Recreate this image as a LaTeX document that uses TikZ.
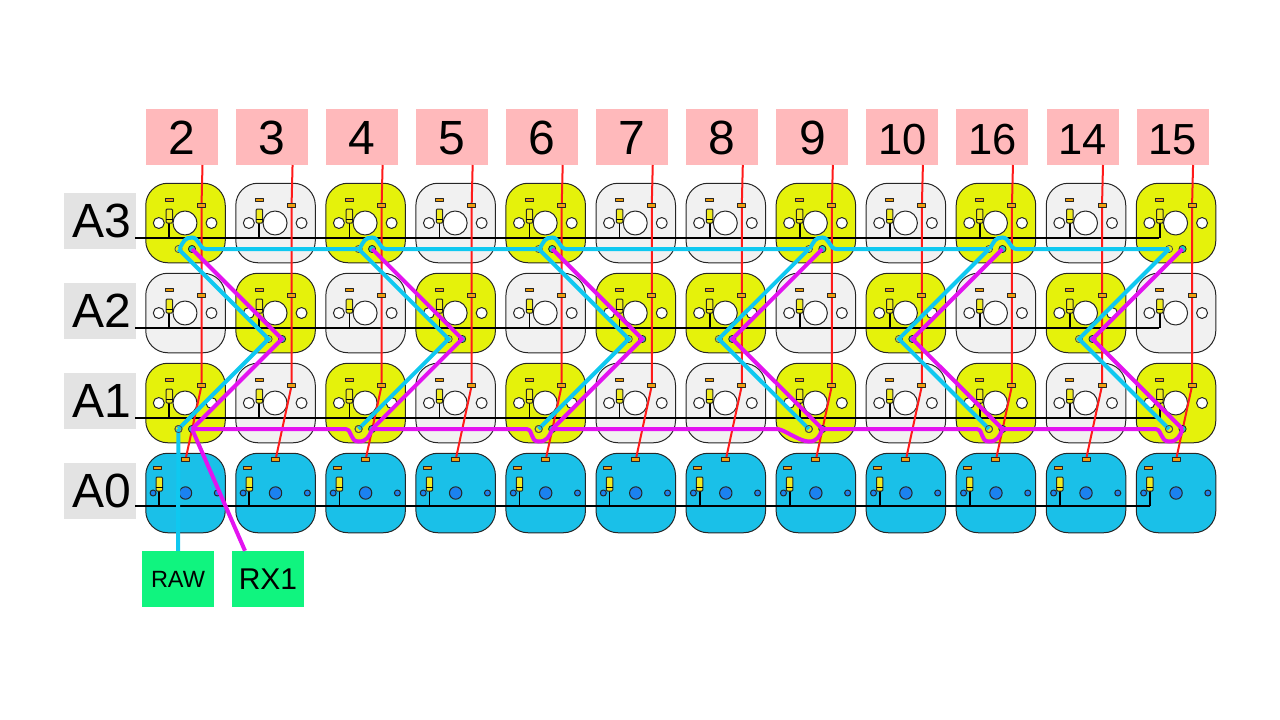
\documentclass[tikz,border=0pt]{standalone}
\usepackage{fontspec}
\setmainfont{Liberation Sans}
\usetikzlibrary{calc}
\definecolor{keyYellow}{RGB}{229,242,11}
\definecolor{keyWhite}{RGB}{241,241,241}
\definecolor{keyBlue}{RGB}{26,192,232}
\definecolor{holeBlue}{RGB}{27,130,240}
\definecolor{wireCyan}{RGB}{15,200,240}
\definecolor{wireMagenta}{RGB}{227,19,240}
\definecolor{wireRed}{RGB}{255,26,26}
\definecolor{padOrange}{RGB}{240,160,16}
\definecolor{padTeal}{RGB}{16,208,192}
\definecolor{bodyYellow}{RGB}{240,235,30}
\definecolor{pinPink}{RGB}{255,185,187}
\definecolor{rowGray}{RGB}{227,227,227}
\definecolor{busGreen}{RGB}{16,244,127}
\tikzset{
	keybox/.style={draw=black!85, line width=1pt, rounded corners=22pt, minimum width=79.5pt, minimum height=79.5pt, inner sep=0pt},
	pinbox/.style={fill=pinPink, minimum width=72pt, minimum height=56pt, inner sep=0pt, font=\fontsize{48}{48}\selectfont},
	pinwide/.style={pinbox, font=\fontsize{43.5}{44}\selectfont},
	rowbox/.style={fill=rowGray, minimum width=72pt, minimum height=56pt, inner sep=0pt, text width=72pt, align=center, font=\fontsize{48}{48}\selectfont},
	busbox/.style={fill=busGreen, minimum width=72pt, minimum height=56pt, inner sep=0pt},
	hole/.style={draw=black!85, line width=1pt},
	rowline/.style={black, line width=2pt},
	stem/.style={black, line width=1.8pt},
	redwire/.style={wireRed, line width=2pt},
	cyanwire/.style={wireCyan, line width=4pt, line join=miter},
	magentawire/.style={wireMagenta, line width=4pt, line join=miter},
	sidepad/.style={draw=black!85, fill=padOrange, line width=1pt},
	pics/resistor/.style={code={
			\draw[stem] (0,0) -- (0,29);
			\draw[sidepad] (-4-#1,-11) rectangle (4-#1,-7.5);
			\draw[draw=black!85, fill=bodyYellow, line width=1pt, rounded corners=1pt] (-3.2,0) rectangle (3.2,14);
			\draw[black, line width=1.8pt] (-3.2,10.5) -- (3.2,10.5);
	}},
}

\begin{document}
\begin{tikzpicture}[x=1pt, y=-1pt, line join=round]
	\useasboundingbox (0,0) rectangle (1280,720);
	
	% ---- Keys and pin labels ----
	\foreach \i/\pin/\pinsty/\colA/\colB in {1/2/pinbox/keyYellow/keyWhite, 2/3/pinbox/keyWhite/keyYellow, 3/4/pinbox/keyYellow/keyWhite, 4/5/pinbox/keyWhite/keyYellow, 5/6/pinbox/keyYellow/keyWhite, 6/7/pinbox/keyWhite/keyYellow, 7/8/pinbox/keyWhite/keyYellow, 8/9/pinbox/keyYellow/keyWhite, 9/10/pinwide/keyWhite/keyYellow, 10/16/pinwide/keyYellow/keyWhite, 11/14/pinwide/keyWhite/keyYellow, 12/15/pinwide/keyYellow/keyWhite}{
		\pgfmathsetmacro{\kx}{145.5+90.05*(\i-1)}
		\node[\pinsty, text height=34pt, text depth=0pt] (pin\i) at (\kx+36.5,137) {\pin};
		\coordinate (rt\i) at (\kx+57,165);
		\foreach \r/\ty/\col in {A3/183/\colA, A2/273/\colB, A1/363/\colA}{
			\node[keybox, fill=\col] (key\i\r) at (\kx+40,\ty+40) {};
			\draw[hole, fill=white] (\kx+39.5,\ty+40) circle (12pt);
			\draw[hole, fill=white] (\kx+13.3,\ty+40) circle (5.5pt);
			\draw[hole, fill=white] (\kx+66,\ty+40) circle (5.5pt);
			\coordinate (rp\i\r) at (\kx+56,\ty+22.7);
			\coordinate (dl\i\r) at (\kx+33,\ty+66);
			\coordinate (dr\i\r) at (\kx+46.5,\ty+66);
		}
		\node[keybox, fill=keyBlue] (key\i A0) at (\kx+40,493) {};
		\draw[hole, fill=holeBlue] (\kx+40,493) circle (6.2pt);
		\draw[hole, fill=holeBlue] (\kx+7.6,493) circle (3pt);
		\draw[hole, fill=holeBlue] (\kx+71.8,493) circle (3pt);
		\coordinate (rp\i A0) at (\kx+40,459.7);
	}
	
	% ---- Row labels and row lines ----
	\foreach \r/\ty/\ln in {A3/221/238, A2/311/328, A1/401/418}{
		\node[rowbox] (row\r) at (100,\ty) {\hspace*{3pt}\r};
		\draw[rowline] (135,\ln) -- (1159,\ln);
	}
	\node[rowbox] (rowA0) at (100,491) {\hspace*{3pt}A0};
	\draw[rowline] (135,505.7) -- (1149.5,505.7);
	
	% ---- Resistors ----
	\foreach \i in {1,...,12}{
		\pgfmathsetmacro{\kx}{145.5+90.05*(\i-1)}
		\foreach \ty in {209,299,389}{
			\pic at (\kx+23.8,\ty) {resistor=0};
		}
		\pic at (\kx+13.8,477) {resistor=1.8};
	}
	
	% ---- Red column wires ----
	\foreach \i in {1,...,12}{
		\draw[redwire] (rt\i) -- (rp\i A3) -- (rp\i A2) -- (rp\i A1) -- (rp\i A0);
		\foreach \r in {A3,A2,A1,A0}{
			\draw[sidepad] ($(rp\i\r)+(-4,-1.9)$) rectangle ($(rp\i\r)+(4,1.9)$);
		}
	}
	
	% ---- Diode pads on the yellow keys ----
	\foreach \i/\r in {1/A3,3/A3,5/A3,8/A3,10/A3,12/A3,2/A2,4/A2,6/A2,7/A2,9/A2,11/A2,1/A1,3/A1,5/A1,8/A1,10/A1,12/A1}{
		\draw[draw=black!70, fill=keyYellow, line width=0.8pt] (dl\i\r) circle (3.6pt);
		\draw[draw=black!85, fill=padTeal, line width=0.8pt] (dr\i\r) circle (3.6pt);
	}
	
	% ---- Bus labels ----
	\node[busbox, font=\fontsize{23.5}{24}\selectfont] (raw) at (178,579) {RAW};
	\node[busbox, font=\fontsize{30}{30}\selectfont] (rx1) at (268,579) {RX1};
	
	% ---- Cyan bus ----
	\draw[cyanwire] (raw.north) -- (dl1A1);
	\foreach \i/\j in {1/2,3/4,5/6,8/7,10/9,12/11}{
		\draw[cyanwire] (dl\i A3) -- (dl\j A2) -- (dl\i A1);
	}
	\foreach \i/\n in {1/3,3/5,5/8,8/10,10/12}{
		\draw[cyanwire] ([xshift=1pt]dl\i A3) .. controls +(4,-8) and +(-7,0) .. ++(12.5,-11.5) .. controls +(7,0) and +(-7,0) .. ++(14,11.5) -- (dl\n A3);
	}
	\foreach \i in {1,3,5,8,10,12}{
		\draw[draw=black!70, line width=0.8pt] (dl\i A1) circle (3.6pt);
	}
	
	% ---- Magenta bus ----
	\draw[magentawire] ([xshift=-23pt]rx1.north) -- (dr1A1);
	\foreach \i/\j in {1/2,3/4,5/6,8/7,10/9,12/11}{
		\draw[magentawire] (dr\i A3) -- (dr\j A2) -- (dr\i A1);
	}
	\foreach \i/\n/\s in {1/3/13,3/5/12,5/8/31,8/10/12,10/12/13.5}{
		\draw[magentawire] (dr\i A1) -- ([xshift=-\s pt]dl\n A1) .. controls +(7,1) and +(-9,0) .. ([yshift=-12.5pt]dl\n A1) .. controls +(8,0) and +(-3,8) .. (dr\n A1);
	}
	
\end{tikzpicture}
\end{document}
